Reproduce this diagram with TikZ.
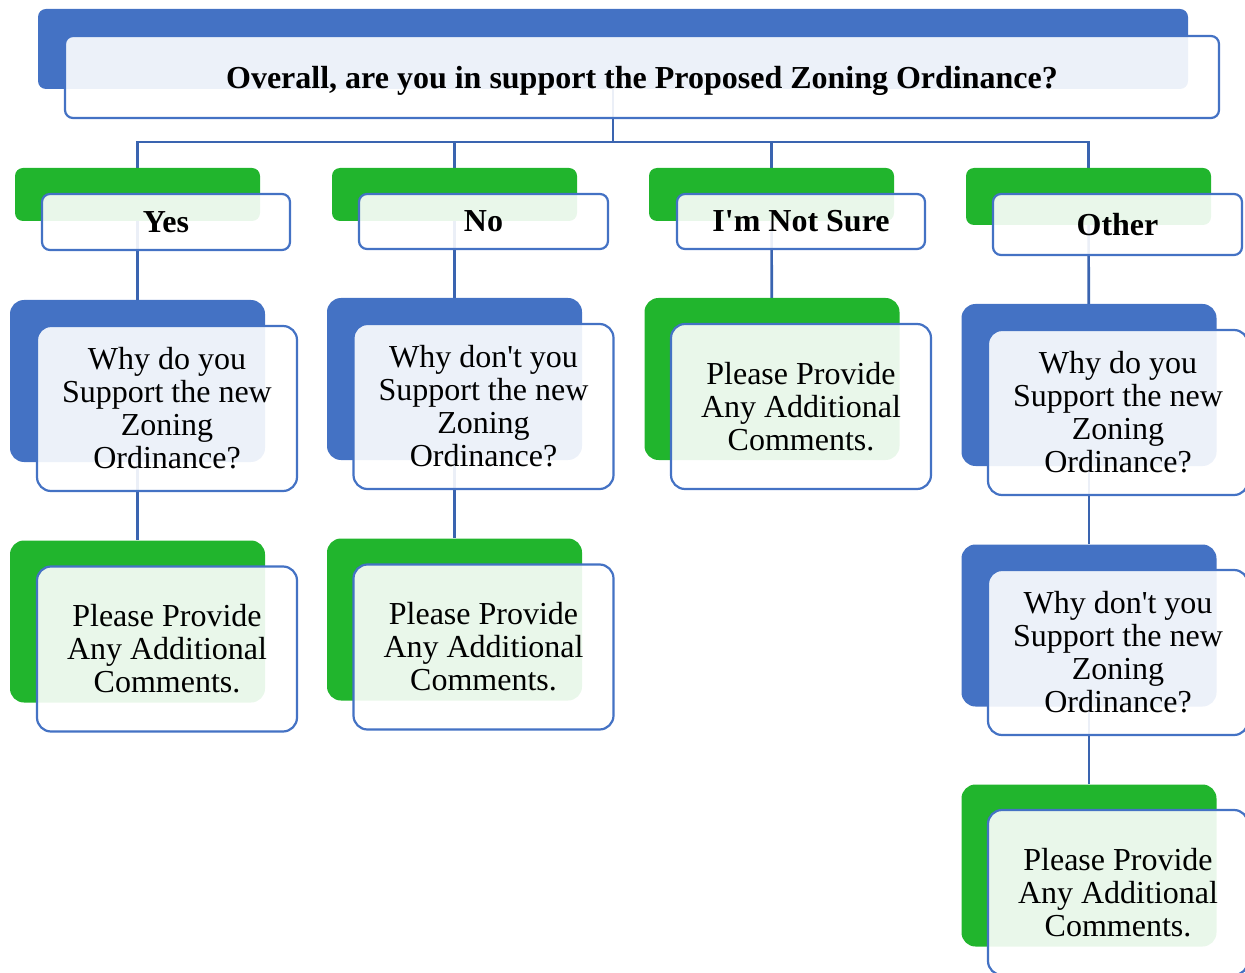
\documentclass[tikz,border=0pt]{standalone}
\usepackage{fontspec}
\setmainfont{Liberation Serif}
\usepackage{tikz}
\usetikzlibrary{positioning,backgrounds}

\definecolor{boxblue}{HTML}{4472C4}
\definecolor{boxgreen}{HTML}{21B52D}
\definecolor{linkblue}{HTML}{3A64B0}

\tikzset{
  backbox/.style={rounded corners=8pt, inner sep=0pt},
  backblue/.style={backbox, fill=boxblue},
  backgreen/.style={backbox, fill=boxgreen},
  frontbox/.style={draw=boxblue, line width=2.2pt, fill=white, fill opacity=.9, text opacity=1,
    rounded corners=8pt, inner sep=0pt, align=center, font=\fontsize{32}{33}\selectfont},
  bigback/.style={minimum width=255, minimum height=162, rounded corners=14pt},
  bigfront/.style={frontbox, minimum width=260, minimum height=165, rounded corners=14pt},
  link/.style={draw=linkblue, line width=2.6pt},
}

\begin{document}
\begin{tikzpicture}[x=1pt, y=-1pt]

\useasboundingbox (0,0) rectangle (1245,973);
\clip (0,0) rectangle (1245,973);

% back plates
\node[backblue, minimum width=1150, minimum height=80] (topB) at (613,49) {};
\node[backgreen, minimum width=245, minimum height=53] (yesB) at (137.5,194.5) {};
\node[backgreen, minimum width=245, minimum height=53] (noB) at (454.5,194.5) {};
\node[backgreen, minimum width=245, minimum height=53] (sureB) at (771.5,194.5) {};
\node[backgreen, minimum width=245, minimum height=57] (otherB) at (1088.5,196.5) {};

\node[backblue, bigback] (yesWhyB) at (137.5,381) {};
\node[backblue, bigback] (noWhyB) at (454.5,379) {};
\node[backgreen, bigback] (sureComB) at (772,379) {};
\node[backblue, bigback] (otherWhyB) at (1089,385) {};

\node[backgreen, bigback] (yesComB) at (137.5,621.5) {};
\node[backgreen, bigback] (noComB) at (454.5,619.5) {};
\node[backblue, bigback] (otherWhyNotB) at (1089,625.5) {};
\node[backgreen, bigback] (otherComB) at (1089,865.5) {};

% connectors, behind the plates
\begin{scope}[on background layer]
\coordinate (bus) at (613,142);
\path[link] (topB) -- (bus);
\path[link] (bus) -| (yesB);
\path[link] (bus) -| (noB);
\path[link] (bus) -| (sureB);
\path[link] (bus) -| (otherB);
\path[link] (yesB) -- (yesWhyB);
\path[link] (yesWhyB) -- (yesComB);
\path[link] (noB) -- (noWhyB);
\path[link] (noWhyB) -- (noComB);
\path[link] (sureB) -- (sureComB);
\path[link] (otherB) -- (otherWhyB);
\path[link] (otherWhyB) -- (otherWhyNotB);
\path[link] (otherWhyNotB) -- (otherComB);
\end{scope}

% front cards
\node[frontbox, minimum width=1154, minimum height=82, text depth=0pt, font=\fontsize{32}{33}\selectfont\bfseries] (top) at (642,77)
  {Overall, are you in support the Proposed Zoning Ordinance?};

\node[frontbox, minimum width=248, minimum height=56, font=\fontsize{32}{33}\selectfont\bfseries] (yes) at (166,222) {Yes};
\node[frontbox, minimum width=249, minimum height=55, font=\fontsize{32}{33}\selectfont\bfseries] (no) at (483.5,221.5) {No};
\node[frontbox, minimum width=248, minimum height=55, font=\fontsize{32}{33}\selectfont\bfseries] (sure) at (801,221.5) {I\textquotesingle m Not Sure};
\node[frontbox, minimum width=249, minimum height=61, font=\fontsize{32}{33}\selectfont\bfseries] (other) at (1117.5,224.5) {Other};

\node[bigfront] (yesWhy) at (167,408.5) {Why do you\\Support the new\\Zoning\\Ordinance?};
\node[bigfront] (noWhy) at (483.5,406.5) {Why don\textquotesingle t you\\Support the new\\Zoning\\Ordinance?};
\node[bigfront] (sureCom) at (801,406.5) {Please Provide\\Any Additional\\Comments.};
\node[bigfront] (otherWhy) at (1118,412.5) {Why do you\\Support the new\\Zoning\\Ordinance?};

\node[bigfront] (yesCom) at (167,649) {Please Provide\\Any Additional\\Comments.};
\node[bigfront] (noCom) at (483.5,647) {Please Provide\\Any Additional\\Comments.};
\node[bigfront] (otherWhyNot) at (1118,652.5) {Why don\textquotesingle t you\\Support the new\\Zoning\\Ordinance?};
\node[bigfront] (otherCom) at (1118,892.5) {Please Provide\\Any Additional\\Comments.};

\end{tikzpicture}
\end{document}
